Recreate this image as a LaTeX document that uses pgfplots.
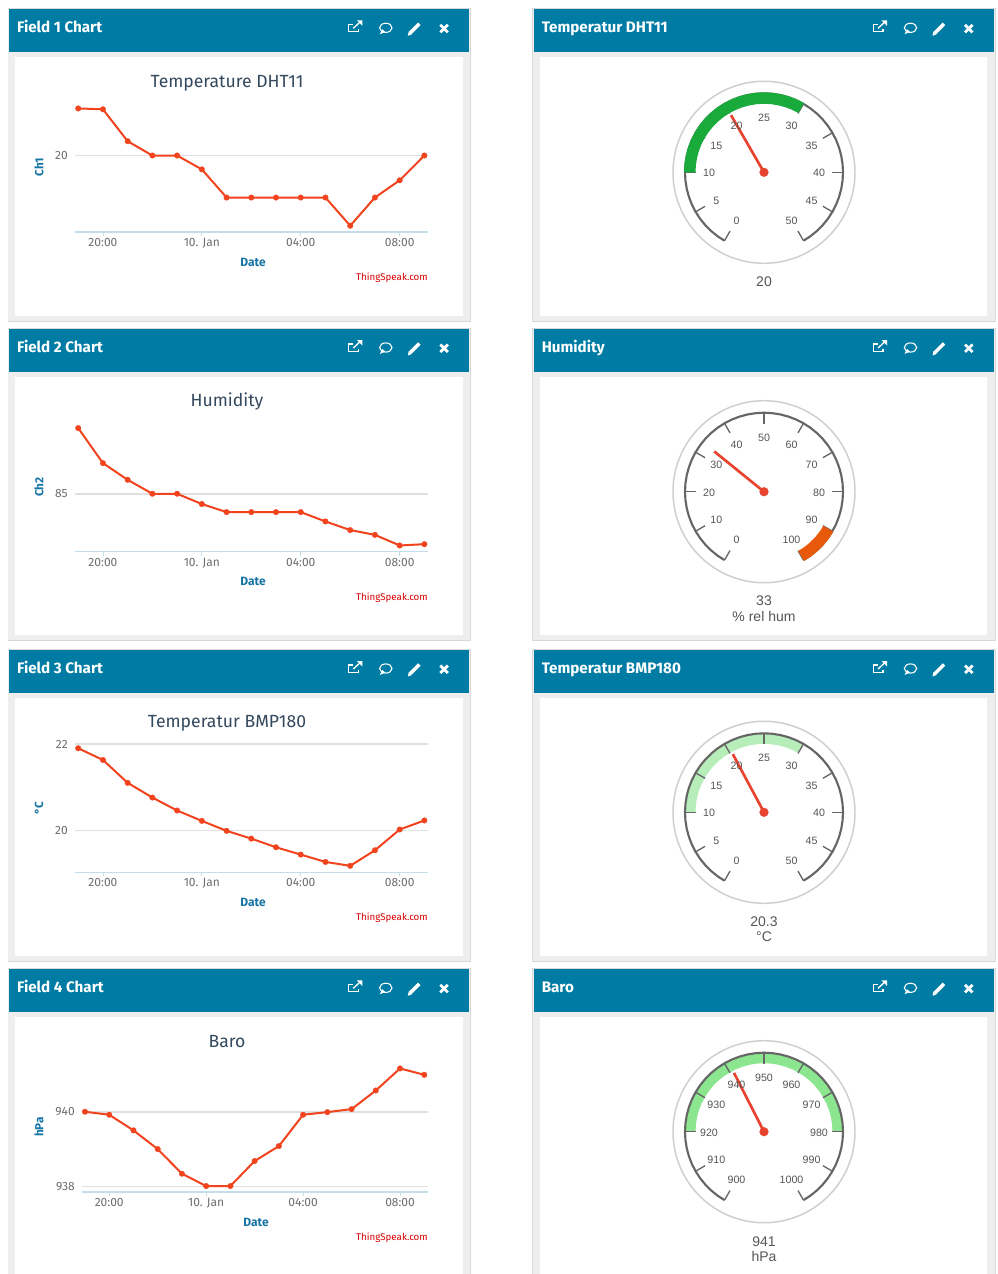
\documentclass[border=0pt]{standalone}
\usepackage{fontspec}
\usepackage{pgfplots}
\pgfplotsset{compat=1.18}
\usepgfplotslibrary{polar}
\setmainfont{Fira Sans}
\newfontfamily\gf{Liberation Sans}
\definecolor{hdr}{HTML}{007CA4}
\definecolor{frm}{HTML}{EEEEEE}
\definecolor{edge}{HTML}{D9D9D9}
\definecolor{ln}{HTML}{F0431E}
\definecolor{grd}{HTML}{E0E0E0}
\definecolor{axb}{HTML}{C4DDEC}
\definecolor{tlab}{HTML}{6E6E6E}
\definecolor{ttl}{HTML}{34495E}
\definecolor{dte}{HTML}{1574A4}
\definecolor{rim}{HTML}{666666}
\definecolor{ndl}{HTML}{E8432F}
\definecolor{glab}{HTML}{555555}
\definecolor{ring}{HTML}{CFCFCF}
\definecolor{HTMLgreenA}{HTML}{18AB3C}
\definecolor{HTMLgreenB}{HTML}{B6EDB8}
\definecolor{HTMLgreenC}{HTML}{8CE68F}
\definecolor{HTMLorange}{HTML}{E8590C}
\tikzset{px/.style={x=0.75pt,y=-0.75pt}}
\newcommand\panel[6]{% x0 x1 ytop ybottom title
  \fill[edge] (#1-1.8,#3-1) rectangle (#2+1.8,#4+0.8);
  \fill[frm] (#1-1,#3) rectangle (#2+1,#4);
  \fill[hdr] (#1,#3) rectangle (#2,#3+43);
  \fill[white] (#1+5.7,#3+48) rectangle (#2-6.6,#4-4.7);
  \node[anchor=base west,inner sep=0,text=white,font=\fontsize{11.4}{12}\selectfont\bfseries] at (#1+7.5,#3+23.3) {#5};
  \begin{scope}[shift={(#1,#3)},white]
    \begin{scope}[xshift=1.5pt]
    \draw[line width=0.9pt] (342,15) -- (337.5,15) -- (337.5,22.5) -- (347,22.5) -- (347,20);
    \draw[line width=1pt] (342,19) -- (349,12.5);
    \fill (345.5,11) -- (351,11) -- (351,16.5) -- cycle;
    \end{scope}
    \draw[line width=0.8pt] (376.5,18.5) ellipse (6.2 and 4.6);
    \fill (370.5,25) -- (373,20) -- (376,22.5) -- cycle;
    \draw[line width=2.6pt] (401,23.5) -- (410,14.5);
    \fill (398.5,26.5) -- (399.5,22) -- (402.5,25) -- cycle;
    \draw[line width=2.1pt] (431,15.5) -- (438.5,23);
    \draw[line width=2.1pt] (438.5,15.5) -- (431,23);
  \end{scope}
}
\newcommand\charttext[7]{% title titley ylabel ylabelY dateX dateY tsY
  \node[anchor=base,inner sep=0,font=\fontsize{13.2}{14}\selectfont,text=ttl] at (227,#2+6.3) {#1};
  \node[font=\fontsize{8.8}{10}\selectfont\bfseries,text=dte,rotate=90] at (39,#4) {#3};
  \node[font=\fontsize{9}{10}\selectfont\bfseries,text=dte] at (#5,#6) {Date};
  \node[anchor=east,inner sep=0,font=\fontsize{7.3}{8}\selectfont,text=red!85!black] at (428,#7) {ThingSpeak.com};
}
\pgfplotsset{
  chart/.style={
    scale only axis, height=102.75pt, clip=false,
    axis x line*=bottom, axis y line*=left,
    x axis line style={draw=axb,line width=0.8pt,-},
    y axis line style={draw=none,-},
    xtick={20,24,28,32}, xticklabels={20:00,10. Jan,04:00,08:00},
    x tick style={draw=axb,line width=0.6pt},
    y tick style={draw=none},
    major tick length=3pt,
    ymajorgrids, grid style={draw=grd,line width=1.2pt},
    xticklabel style={anchor=base,text=tlab,font=\fontsize{9}{10}\selectfont,yshift=-8pt},
    yticklabel style={anchor=east,text=tlab,font=\fontsize{9}{10}\selectfont,xshift=-2.25pt},
    tick label style={inner sep=0pt},
    xtick pos=bottom,
    tick align=outside,
  },
  series/.style={draw=ln,line width=1.5pt,mark=*,mark size=2.1pt,mark options={draw=ln,fill=ln,line width=0.2pt}},
  gauge/.style={
    hide axis, scale only axis, width=136.5pt, height=136.5pt,
    ymin=0, ymax=91, xmin=0, xmax=360, clip=false, anchor=center,
    disabledatascaling,
  },
  glabel/.style={draw=none,mark=none,nodes near coords,point meta=explicit symbolic,
    every node near coord/.append style={anchor=center,inner sep=0pt,text=glab,yshift=-0.5pt,font=\gf\fontsize{8}{9}\selectfont}},
  needle/.style={draw=ndl,line width=2pt,mark=none},
  hub/.style={only marks,mark=*,mark size=3.3pt,mark options={draw=ndl,fill=ndl,line width=0.2pt}},
}
\newcommand\rimticks{%
  \addplot[draw=rim,line width=1.6pt,mark=none] coordinates {(240,79)(234,79)(228,79)(222,79)(216,79)(210,79)(204,79)(198,79)(192,79)(186,79)(180,79)(174,79)(168,79)(162,79)(156,79)(150,79)(144,79)(138,79)(132,79)(126,79)(120,79)(114,79)(108,79)(102,79)(96,79)(90,79)(84,79)(78,79)(72,79)(66,79)(60,79)(54,79)(48,79)(42,79)(36,79)(30,79)(24,79)(18,79)(12,79)(6,79)(0,79)(-6,79)(-12,79)(-18,79)(-24,79)(-30,79)(-36,79)(-42,79)(-48,79)(-54,79)(-60,79)};
  \pgfplotsinvokeforeach{240,210,180,150,120,90,60,30,0,-30,-60}{%
    \addplot[draw=rim,line width=1pt,mark=none] coordinates {(##1,79)(##1,68)};}%
}
\begin{document}
\begin{tikzpicture}
\useasboundingbox (0,0) rectangle (748.5pt,-955.5pt);
\begin{scope}[px]
\fill[white] (0,0) rectangle (998,1274);
\panel{9.3}{469.3}{9.3}{320.7}{Field 1 Chart}{}
\panel{9.3}{469.3}{329}{640}{Field 2 Chart}{}
\panel{9.3}{469.3}{650}{961}{Field 3 Chart}{}
\panel{9.3}{469.3}{969.3}{1290}{Field 4 Chart}{}
\panel{534}{994}{9.3}{320.7}{Temperatur DHT11}{}
\panel{534}{994}{329}{640}{Humidity}{}
\panel{534}{994}{650}{961}{Temperatur BMP180}{}
\panel{534}{994}{969.3}{1290}{Baro}{}
\charttext{Temperature DHT11}{81}{Ch1}{167}{253}{262}{278}
\charttext{Humidity}{400.5}{Ch2}{487}{253}{581.5}{597.5}
\charttext{Temperatur BMP180}{721}{\textdegree C}{808}{253}{902}{918}
\charttext{Baro}{1041}{hPa}{1127}{256}{1222}{1238}
\foreach \cy in {172.3,491.7,812.3,1131.7}{
  \draw[draw=ring,line width=1.1pt] (764,\cy) circle (91);
}
\begin{scope}[text=glab,font=\gf\fontsize{10.5}{12}\selectfont]
\node at (764,281.5) {20};
\node at (764,601) {33};
\node at (764,616) {\% rel hum};
\node at (764,921.5) {20.3};
\node at (764,936.5) {\textdegree C};
\node at (764,1241.5) {941};
\node at (764,1256.5) {hPa};
\end{scope}
\end{scope}

% ---------- Charts
\begin{axis}[chart,at={(56.25pt,-174pt)},width=265pt,xmin=18.87,xmax=33.16,ymin=18.18,ymax=21.44,ytick={20},yticklabels={20}]
\addplot[series] coordinates {(19,21.12)(20,21.10)(21,20.34)(22,20)(23,20)(24,19.67)(25,19)(26,19)(27,19)(28,19)(29,19)(30,18.33)(31,19)(32,19.41)(33,20)};
\end{axis}
\begin{axis}[chart,at={(56.25pt,-413.78pt)},width=265pt,xmin=18.87,xmax=33.16,ymin=81.84,ymax=89.31,ytick={85},yticklabels={85}]
\addplot[series] coordinates {(19,88.58)(20,86.67)(21,85.76)(22,85)(23,85)(24,84.44)(25,84)(26,84)(27,84)(28,84)(29,83.49)(30,83.02)(31,82.76)(32,82.18)(33,82.25)};
\end{axis}
\begin{axis}[chart,at={(56.25pt,-654.23pt)},width=265pt,xmin=18.87,xmax=33.16,ymin=19.03,ymax=22.2,ytick={20,22},yticklabels={20,22}]
\addplot[series] coordinates {(19,21.90)(20,21.63)(21,21.10)(22,20.76)(23,20.46)(24,20.22)(25,19.99)(26,19.81)(27,19.61)(28,19.44)(29,19.27)(30,19.18)(31,19.54)(32,20.02)(33,20.23)};
\end{axis}
\begin{axis}[chart,at={(61.5pt,-894pt)},width=259.7pt,xmin=18.876,xmax=33.165,ymin=937.85,ymax=941.52,ytick={938,940},yticklabels={938,940}]
\addplot[series] coordinates {(19,940)(20,939.92)(21,939.5)(22,939)(23,938.34)(24,938.01)(25,938.01)(26,938.68)(27,939.08)(28,939.92)(29,939.99)(30,940.07)(31,940.57)(32,941.16)(33,940.99)};
\end{axis}

% ---------- Gauges
\begin{polaraxis}[gauge,at={(573pt,-129.23pt)}]
\rimticks
\addplot[fill=HTMLgreenA,draw=none] coordinates {(180,80)(174,80)(168,80)(162,80)(156,80)(150,80)(144,80)(138,80)(132,80)(126,80)(120,80)(114,80)(108,80)(102,80)(96,80)(90,80)(84,80)(78,80)(72,80)(66,80)(60,80)(60,68.5)(66,68.5)(72,68.5)(78,68.5)(84,68.5)(90,68.5)(96,68.5)(102,68.5)(108,68.5)(114,68.5)(120,68.5)(126,68.5)(132,68.5)(138,68.5)(144,68.5)(150,68.5)(156,68.5)(162,68.5)(168,68.5)(174,68.5)(180,68.5)} -- cycle;
\addplot[glabel] coordinates {(240,55)[0](210,55)[5](180,55)[10](150,55)[15](120,55)[20](90,55)[25](60,55)[30](30,55)[35](0,55)[40](-30,55)[45](-60,55)[50]};
\addplot[needle,x filter/.expression={240-6*x}] coordinates {(20,0)(20,66)};
\addplot[hub,x filter/.expression={240-6*x}] coordinates {(20,0)};
\end{polaraxis}
\begin{polaraxis}[gauge,at={(573pt,-368.78pt)}]
\rimticks
\addplot[fill=HTMLorange,draw=none] coordinates {(-30,80)(-36,80)(-42,80)(-48,80)(-54,80)(-60,80)(-60,68.5)(-54,68.5)(-48,68.5)(-42,68.5)(-36,68.5)(-30,68.5)} -- cycle;
\addplot[glabel] coordinates {(240,55)[0](210,55)[10](180,55)[20](150,55)[30](120,55)[40](90,55)[50](60,55)[60](30,55)[70](0,55)[80](-30,55)[90](-60,55)[100]};
\addplot[needle,x filter/.expression={240-3*x}] coordinates {(33,0)(33,64)};
\addplot[hub,x filter/.expression={240-3*x}] coordinates {(33,0)};
\end{polaraxis}
\begin{polaraxis}[gauge,at={(573pt,-609.23pt)}]
\addplot[fill=HTMLgreenB,draw=none] coordinates {(180,79)(174,79)(168,79)(162,79)(156,79)(150,79)(144,79)(138,79)(132,79)(126,79)(120,79)(114,79)(108,79)(102,79)(96,79)(90,79)(84,79)(78,79)(72,79)(66,79)(60,79)(60,68.5)(66,68.5)(72,68.5)(78,68.5)(84,68.5)(90,68.5)(96,68.5)(102,68.5)(108,68.5)(114,68.5)(120,68.5)(126,68.5)(132,68.5)(138,68.5)(144,68.5)(150,68.5)(156,68.5)(162,68.5)(168,68.5)(174,68.5)(180,68.5)} -- cycle;
\rimticks
\addplot[glabel] coordinates {(240,55)[0](210,55)[5](180,55)[10](150,55)[15](120,55)[20](90,55)[25](60,55)[30](30,55)[35](0,55)[40](-30,55)[45](-60,55)[50]};
\addplot[needle,x filter/.expression={240-6*x}] coordinates {(20.3,0)(20.3,66)};
\addplot[hub,x filter/.expression={240-6*x}] coordinates {(20.3,0)};
\end{polaraxis}
\begin{polaraxis}[gauge,at={(573pt,-848.78pt)}]
\addplot[fill=HTMLgreenC,draw=none] coordinates {(180,79)(174,79)(168,79)(162,79)(156,79)(150,79)(144,79)(138,79)(132,79)(126,79)(120,79)(114,79)(108,79)(102,79)(96,79)(90,79)(84,79)(78,79)(72,79)(66,79)(60,79)(54,79)(48,79)(42,79)(36,79)(30,79)(24,79)(18,79)(12,79)(6,79)(0,79)(0,68.5)(6,68.5)(12,68.5)(18,68.5)(24,68.5)(30,68.5)(36,68.5)(42,68.5)(48,68.5)(54,68.5)(60,68.5)(66,68.5)(72,68.5)(78,68.5)(84,68.5)(90,68.5)(96,68.5)(102,68.5)(108,68.5)(114,68.5)(120,68.5)(126,68.5)(132,68.5)(138,68.5)(144,68.5)(150,68.5)(156,68.5)(162,68.5)(168,68.5)(174,68.5)(180,68.5)} -- cycle;
\rimticks
\addplot[glabel] coordinates {(240,55)[900](210,55)[910](180,55)[920](150,55)[930](120,55)[940](90,55)[950](60,55)[960](30,55)[970](0,55)[980](-30,55)[990](-60,55)[1000]};
\addplot[needle,x filter/.expression={240-3*(x-900)}] coordinates {(941,0)(941,66)};
\addplot[hub,x filter/.expression={240-3*(x-900)}] coordinates {(941,0)};
\end{polaraxis}
\end{tikzpicture}
\end{document}
